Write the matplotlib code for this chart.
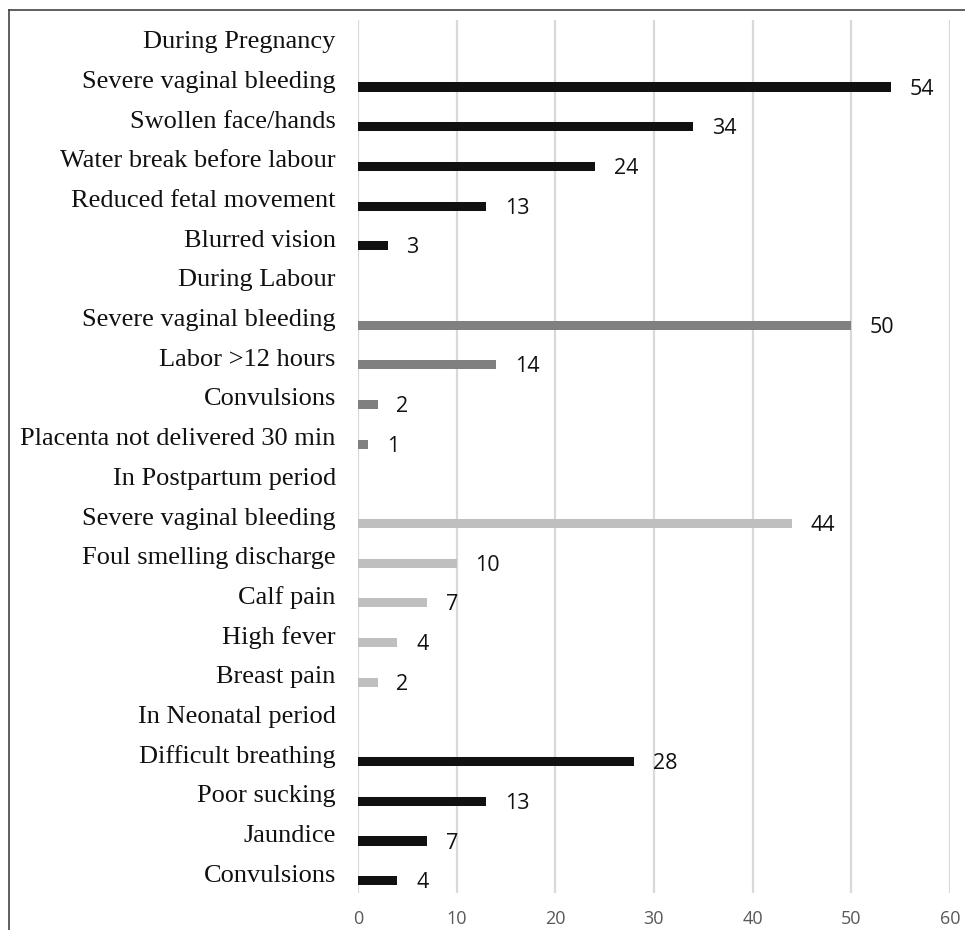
import matplotlib.pyplot as plt
from matplotlib.lines import Line2D
import numpy as np

# categories top to bottom, None means a group header row (no bar)
labels = [
    "During Pregnancy",
    "Severe vaginal bleeding",
    "Swollen face/hands",
    "Water break before labour",
    "Reduced fetal movement",
    "Blurred vision",
    "During Labour",
    "Severe vaginal bleeding",
    "Labor >12 hours",
    "Convulsions",
    "Placenta not delivered 30 min",
    "In Postpartum period",
    "Severe vaginal bleeding",
    "Foul smelling discharge",
    "Calf pain",
    "High fever",
    "Breast pain",
    "In Neonatal period",
    "Difficult breathing",
    "Poor sucking",
    "Jaundice",
    "Convulsions",
]
values = [None, 54, 34, 24, 13, 3,
          None, 50, 14, 2, 1,
          None, 44, 10, 7, 4, 2,
          None, 28, 13, 7, 4]
groups = ["preg", "preg", "preg", "preg", "preg", "preg",
          "lab", "lab", "lab", "lab", "lab",
          "post", "post", "post", "post", "post", "post",
          "neo", "neo", "neo", "neo", "neo"]
group_colours = {"preg": "#111111", "lab": "#808080", "post": "#bfbfbf", "neo": "#111111"}
xticks = [0, 10, 20, 30, 40, 50, 60]

W, H = 965, 930
fig = plt.figure(figsize=(W / 100, H / 100), dpi=100)
ax = fig.add_axes([358 / W, 1 - 893 / H, 592 / W, 873 / H])

n = len(labels)
pos = np.arange(n)
bar_off = 0.19
for i, (v, g) in enumerate(zip(values, groups)):
    if v is None:
        continue
    ax.barh(i + bar_off, v, height=0.23, color=group_colours[g], zorder=3)
    ax.text(v + 1.9, i + bar_off + 0.05, str(v), va="center", ha="left",
            fontsize=15.5, family="Open Sans", color="#111111")

ax.set_ylim(n - 0.5, -0.5)
ax.set_xlim(0, 60)
ax.set_yticks(pos)
ax.set_yticklabels(labels, family="Liberation Serif", fontsize=19, color="#111111")
ax.set_xticks(xticks)
ax.set_xticklabels([str(t) for t in xticks], family="Open Sans", fontsize=13, color="#595959")
ax.tick_params(axis="both", length=0)
ax.tick_params(axis="y", pad=16)
ax.tick_params(axis="x", pad=12)
for s in ax.spines.values():
    s.set_visible(False)
ax.xaxis.grid(True, color="#d9d9d9", linewidth=1.6, zorder=0)
ax.set_axisbelow(True)

# outer frame (left and top edges visible)
fig.add_artist(Line2D([9 / W, 9 / W], [0, 1 - 10 / H], transform=fig.transFigure,
                      color="#444444", linewidth=1.2))
fig.add_artist(Line2D([9 / W, 1], [1 - 10 / H, 1 - 10 / H], transform=fig.transFigure,
                      color="#444444", linewidth=1.2))

fig.savefig("out.png", dpi=100)
